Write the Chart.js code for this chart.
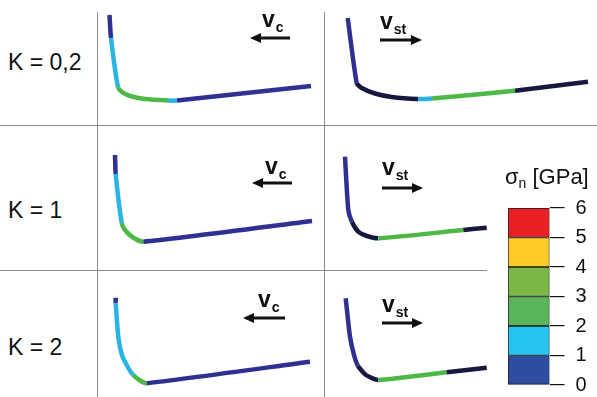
<!DOCTYPE html>
<html>
<head>
<meta charset="utf-8">
<script src="https://cdn.jsdelivr.net/npm/chart.js@4"></script>
<style>
  body { margin: 0; width: 597px; height: 397px; position: relative; overflow: hidden; background: #fff;
         font-family: "Liberation Sans", Arial, sans-serif; color: #111; }
  canvas { position: absolute; }
  .hline { position: absolute; height: 1px; background: #8c8c8c; }
  .vline { position: absolute; width: 1px; background: #8c8c8c; }
  .klabel { position: absolute; left: 8px; font-size: 23px; line-height: 24px; white-space: nowrap; }
  .cbtitle { position: absolute; left: 505px; top: 165px; font-size: 22px; line-height: 24px; white-space: nowrap; }
  .cbtitle sub { font-size: 14px; vertical-align: -4px; }
</style>
</head>
<body>
<div class="vline" style="left:97px; top:12px; height:385px"></div>
<div class="vline" style="left:324px; top:12px; height:385px"></div>
<div class="hline" style="left:0; top:125px; width:597px"></div>
<div class="hline" style="left:0; top:270px; width:487px"></div>

<div class="klabel" style="top:50px">K = 0,2</div>
<div class="klabel" style="top:198px">K = 1</div>
<div class="klabel" style="top:335px">K = 2</div>

<canvas id="p1" width="228" height="125" style="left:97px; top:0"></canvas>
<canvas id="p2" width="272" height="125" style="left:325px; top:0"></canvas>
<canvas id="p3" width="228" height="145" style="left:97px; top:125px"></canvas>
<canvas id="p4" width="272" height="145" style="left:325px; top:125px"></canvas>
<canvas id="p5" width="228" height="127" style="left:97px; top:270px"></canvas>
<canvas id="p6" width="272" height="127" style="left:325px; top:270px"></canvas>

<div class="cbtitle">σ<sub>n</sub> [GPa]</div>
<canvas id="colorbar" width="107" height="223" style="left:490px; top:185px"></canvas>

<script>
// stress band per segment: 0 = 0-1 GPa, 1 = 1-2 GPa, 2 = 2-3 GPa, -1 = dark (no value)
const curveColors = ['#2E3192', '#2AB4E6', '#4DB848', '#7AB648', '#FFC926', '#E82127'];
const darkColor = '#16183F';

// K = 0,2  cutting (v_c)
const k02cX = [12.5, 14, 21, 25, 33, 48, 71, 80, 214];
const k02cY = [15, 38, 87, 92, 96, 99, 100.5, 100.5, 86];
const k02cBand = [0, 1, 2, 2, 2, 2, 1, 0];

// K = 0,2  stick (v_st)
const k02sX = [22.7, 31.7, 36.7, 50, 66.7, 93, 107, 190, 263];
const k02sY = [18, 83, 88, 93.5, 97, 99, 98.5, 90.7, 81.7];
const k02sBand = [0, -1, -1, -1, -1, 1, 2, -1];

// K = 1  cutting
const k1cX = [18, 18.7, 24.7, 28, 36, 46.3, 215];
const k1cY = [30, 49, 98, 105, 112.5, 116.7, 96];
const k1cBand = [0, 1, 2, 2, 2, 0];

// K = 1  stick
const k1sX = [20, 23.3, 27, 33.3, 42, 53.3, 138.3, 161.7];
const k1sY = [31.7, 85, 97, 106.7, 111, 113.3, 105, 102.7];
const k1sBand = [0, 0, -1, -1, -1, 2, -1];

// K = 2  cutting
const k2cX = [18.7, 18.7, 21.3, 25, 31.3, 36.3, 43, 49.7, 213];
const k2cY = [27.7, 33, 66.7, 85, 98, 105, 110.5, 113.3, 91.7];
const k2cBand = [0, 1, 1, 1, 1, 2, 2, 0];

// K = 2  stick
const k2sX = [20.7, 25, 29, 33, 41, 53.3, 121.7, 161.7];
const k2sY = [28.3, 66.7, 85, 96, 105, 110, 102.3, 97.7];
const k2sBand = [0, 0, 0, -1, -1, 2, -1];

// colour scale
const bandValues = [1, 1, 1, 1, 1, 1];
const bandFill = ['#2D4DA0', '#27C3EF', '#5AB55A', '#7BB744', '#FFC926', '#EA2027'];

function bandColor(b) {
    return b < 0 ? darkColor : curveColors[b];
}

// draws the v_c / v_st label with its arrow
const velocityArrow = {
    id: 'velocityArrow',
    afterDraw(chart, args, opts) {
        const ctx = chart.ctx;
        ctx.save();
        ctx.fillStyle = '#111';
        ctx.strokeStyle = '#111';
        ctx.font = 'bold 23px "Liberation Sans", Arial';
        ctx.textBaseline = 'alphabetic';
        ctx.fillText('v', opts.x, opts.base);
        const w = ctx.measureText('v').width;
        ctx.font = 'bold 14px "Liberation Sans", Arial';
        ctx.fillText(opts.sub, opts.x + w + 1, opts.base + 5);

        const y = opts.ay, head = 11, half = 5;
        ctx.lineWidth = 3;
        ctx.beginPath();
        if (opts.dir < 0) {
            ctx.moveTo(opts.a2, y);
            ctx.lineTo(opts.a1 + head - 1, y);
        } else {
            ctx.moveTo(opts.a1, y);
            ctx.lineTo(opts.a2 - head + 1, y);
        }
        ctx.stroke();
        ctx.beginPath();
        if (opts.dir < 0) {
            ctx.moveTo(opts.a1, y);
            ctx.lineTo(opts.a1 + head, y - half);
            ctx.lineTo(opts.a1 + head, y + half);
        } else {
            ctx.moveTo(opts.a2, y);
            ctx.lineTo(opts.a2 - head, y - half);
            ctx.lineTo(opts.a2 - head, y + half);
        }
        ctx.closePath();
        ctx.fill();
        ctx.restore();
    }
};

function makePanel(id, xs, ys, bands, arrow) {
    const canvas = document.getElementById(id);
    return new Chart(canvas.getContext('2d'), {
        type: 'line',
        data: {
            datasets: [{
                data: xs.map((x, i) => ({ x: x, y: ys[i] })),
                borderWidth: 4.5,
                borderCapStyle: 'butt',
                borderJoinStyle: 'round',
                pointRadius: 0,
                tension: 0.2,
                segment: {
                    borderColor: c => bandColor(bands[c.p0DataIndex])
                }
            }]
        },
        options: {
            responsive: false,
            animation: false,
            events: [],
            layout: { padding: 0 },
            plugins: {
                legend: { display: false },
                tooltip: { enabled: false },
                velocityArrow: arrow
            },
            scales: {
                x: { type: 'linear', display: false, min: 0, max: canvas.width },
                y: { type: 'linear', display: false, min: 0, max: canvas.height, reverse: true }
            }
        },
        plugins: [velocityArrow]
    });
}

makePanel('p1', k02cX, k02cY, k02cBand, { sub: 'c', x: 165, base: 27, a1: 153, a2: 193, ay: 38, dir: -1 });
makePanel('p2', k02sX, k02sY, k02sBand, { sub: 'st', x: 55, base: 29, a1: 55, a2: 97, ay: 40, dir: 1 });
makePanel('p3', k1cX, k1cY, k1cBand, { sub: 'c', x: 168, base: 49, a1: 155, a2: 195, ay: 58, dir: -1 });
makePanel('p4', k1sX, k1sY, k1sBand, { sub: 'st', x: 57, base: 50, a1: 57, a2: 98, ay: 63, dir: 1 });
makePanel('p5', k2cX, k2cY, k2cBand, { sub: 'c', x: 161, base: 37, a1: 146, a2: 188, ay: 48, dir: -1 });
makePanel('p6', k2sX, k2sY, k2sBand, { sub: 'st', x: 57, base: 42, a1: 57, a2: 98, ay: 53, dir: 1 });

// Colour bar
const cbCtx = document.getElementById('colorbar').getContext('2d');
new Chart(cbCtx, {
    type: 'bar',
    data: {
        labels: [''],
        datasets: bandValues.map((v, i) => ({
            data: [v],
            backgroundColor: bandFill[i],
            borderColor: '#1a1a1a',
            borderWidth: 1,
            borderSkipped: false,
            barPercentage: 1,
            categoryPercentage: 1
        }))
    },
    options: {
        responsive: false,
        animation: false,
        events: [],
        layout: { padding: { top: 20, bottom: 20, left: 18, right: 6 } },
        plugins: { legend: { display: false }, tooltip: { enabled: false } },
        scales: {
            x: { stacked: true, display: false },
            y: {
                stacked: true,
                position: 'right',
                min: 0,
                max: 6,
                ticks: { stepSize: 1, color: '#111', padding: 11,
                         font: { size: 20, family: '"Liberation Sans", Arial' } },
                grid: { drawOnChartArea: false, drawTicks: true, tickLength: 15, color: '#111', lineWidth: 1.2 },
                border: { display: false }
            }
        }
    }
});
</script>
</body>
</html>
